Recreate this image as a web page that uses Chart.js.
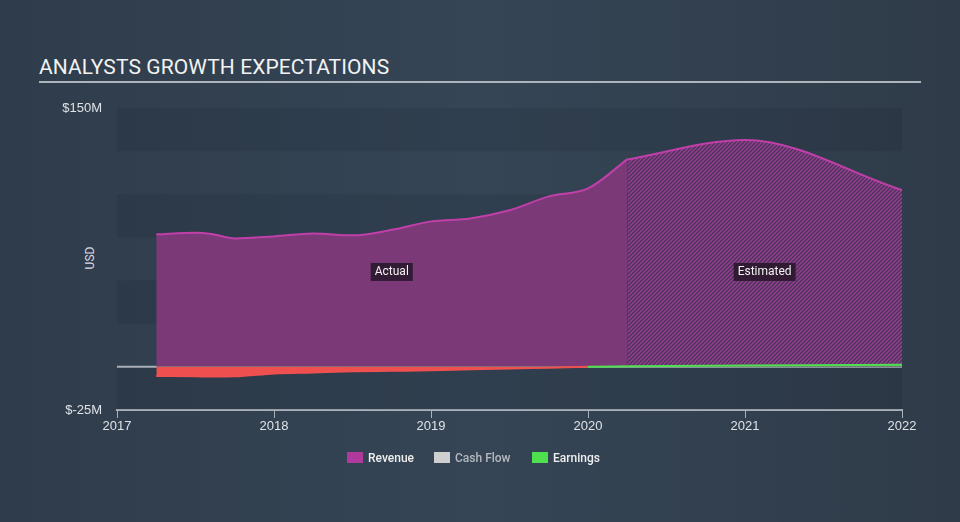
<!DOCTYPE html>
<html>
<head>
<meta charset="utf-8">
<script src="https://cdn.jsdelivr.net/npm/chart.js@4.4.1/dist/chart.umd.min.js"></script>
<style>
  html, body { margin: 0; padding: 0; }
  body {
    width: 960px; height: 522px; overflow: hidden; position: relative;
    background: linear-gradient(90deg, #2f3c4b 0%, #354555 50%, #2f3b49 100%);
    font-family: Roboto, "Open Sans", sans-serif;
  }
  #title {
    position: absolute; left: 39px; top: 55px;
    font-size: 21px; color: #f2f2f2; letter-spacing: 0.1px;
  }
  #rule {
    position: absolute; left: 39px; top: 81px; width: 882px; height: 2px; background: #aeb4bb;
  }
  #usd {
    position: absolute; left: 79px; top: 251px; font-size: 12px; color: #d8dbe0;
    transform: rotate(-90deg); transform-origin: center;
  }
  #wrap { position: absolute; left: 0; top: 0; width: 960px; height: 522px; }
  #legend { position: absolute; top: 451px; left: 0; width: 960px; font-size: 12px; font-weight: 500; }
  .item { position: absolute; top: 0; height: 12px; line-height: 12px; }
  .item span.box { position: absolute; left: 0; top: 1px; width: 16px; height: 11px; }
  .item span.txt { position: absolute; left: 21px; top: 1px; white-space: nowrap; }
</style>
</head>
<body>
<div id="title">ANALYSTS GROWTH EXPECTATIONS</div>
<div id="rule"></div>
<div id="usd">USD</div>
<div id="wrap"><canvas id="chart" width="960" height="522"></canvas></div>
<div id="legend">
  <div class="item" style="left:347px"><span class="box" style="background:#b0399c"></span><span class="txt" style="color:#eeeeee">Revenue</span></div>
  <div class="item" style="left:434px"><span class="box" style="background:#cfcfcf"></span><span class="txt" style="color:#b5b9be">Cash Flow</span></div>
  <div class="item" style="left:532px"><span class="box" style="background:#4fe04f"></span><span class="txt" style="color:#eeeeee">Earnings</span></div>
</div>
<script>
// values in $M, dates as fractional years
const actualYears   = [2017.25, 2017.5, 2017.6, 2017.75, 2018.0, 2018.25, 2018.5, 2018.75, 2019.0, 2019.25, 2019.5, 2019.75, 2020.0, 2020.25];
const revenueActual = [76.8, 77.7, 77.0, 74.4, 75.6, 77.3, 76.2, 79.4, 84.3, 86.0, 90.7, 98.8, 103.4, 120.2];
const earningsActual = [-5.3, -5.5, -5.6, -5.5, -3.8, -3.2, -2.6, -2.3, -2.0, -1.4, -0.9, -0.5, 0.0, 0.3];

const estimateYears    = [2020.25, 2021.0, 2022.0];
const revenueEstimate  = [120.2, 131.5, 102.5];
const earningsEstimate = [0.3, 0.8, 1.2];

const yTickLabels = { 150: '$150M', '-25': '$-25M' };

function pts(xs, ys) {
  return xs.map((x, i) => ({ x: x, y: ys[i] }));
}

// diagonal hatch for the forecast area
function hatch() {
  const c = document.createElement('canvas');
  c.width = 4; c.height = 4;
  const g = c.getContext('2d');
  g.fillStyle = '#4c3458';
  g.fillRect(0, 0, 4, 4);
  g.strokeStyle = '#9a3f96';
  g.lineWidth = 1.3;
  g.beginPath();
  g.moveTo(0, 4); g.lineTo(4, 0);
  g.moveTo(-1, 1); g.lineTo(1, -1);
  g.moveTo(3, 5); g.lineTo(5, 3);
  g.stroke();
  return g.createPattern(c, 'repeat');
}

// alternating bands + zero line behind the data
const bandsPlugin = {
  id: 'bands',
  beforeDatasetsDraw(chart) {
    const { ctx, chartArea, scales: { y } } = chart;
    ctx.save();
    ctx.fillStyle = 'rgba(20, 28, 38, 0.12)';
    for (let v = 150; v > -25; v -= 50) {
      const top = y.getPixelForValue(v);
      const bot = y.getPixelForValue(v - 25);
      ctx.fillRect(chartArea.left, top, chartArea.right - chartArea.left, bot - top);
    }
    const b = y.getPixelForValue(0);
    ctx.strokeStyle = '#a9b0b8';
    ctx.lineWidth = 2;
    ctx.beginPath();
    ctx.moveTo(chartArea.left, b);
    ctx.lineTo(chartArea.right, b);
    ctx.stroke();
    ctx.restore();
  },
  afterDatasetsDraw(chart) {
    const { ctx, scales: { x, y } } = chart;
    const labelY = y.getPixelForValue(55);
    const tags = [
      ['Actual', (x.getPixelForValue(actualYears[0]) + x.getPixelForValue(actualYears[actualYears.length - 1])) / 2],
      ['Estimated', (x.getPixelForValue(estimateYears[0]) + x.getPixelForValue(estimateYears[estimateYears.length - 1])) / 2]
    ];
    ctx.save();
    ctx.font = '12px Roboto, sans-serif';
    ctx.textAlign = 'center';
    ctx.textBaseline = 'middle';
    tags.forEach(([t, cx]) => {
      const w = ctx.measureText(t).width + 8;
      ctx.fillStyle = 'rgba(38, 22, 40, 0.85)';
      ctx.fillRect(cx - w / 2, labelY - 9, w, 18);
      ctx.fillStyle = '#f2f2f2';
      ctx.fillText(t, cx, labelY + 0.5);
    });
    ctx.restore();
  }
};

const earnColor = ctx => (ctx.p1.parsed.y >= 0 && ctx.p0.parsed.y >= 0) ? '#4fe04f' : '#f05050';

new Chart(document.getElementById('chart'), {
  type: 'line',
  data: {
    datasets: [
      {
        label: 'Earnings',
        data: pts(actualYears, earningsActual),
        borderColor: '#f05050',
        segment: { borderColor: earnColor },
        borderWidth: 2,
        fill: { target: 'origin', above: '#4fe04f', below: '#ef4f4f' },
        pointRadius: 0,
        cubicInterpolationMode: 'monotone',
        order: 1
      },
      {
        label: 'Earnings (est.)',
        data: pts(estimateYears, earningsEstimate),
        borderColor: '#4fe04f',
        borderWidth: 2,
        fill: { target: 'origin', above: 'rgba(79,224,79,0.5)' },
        pointRadius: 0,
        cubicInterpolationMode: 'monotone',
        order: 1
      },
      {
        label: 'Revenue',
        data: pts(actualYears, revenueActual),
        borderColor: '#c03fa8',
        backgroundColor: '#7b3a77',
        borderWidth: 2,
        fill: 'origin',
        pointRadius: 0,
        cubicInterpolationMode: 'monotone',
        order: 2
      },
      {
        label: 'Revenue (est.)',
        data: pts(estimateYears, revenueEstimate),
        borderColor: '#c03fa8',
        backgroundColor: hatch(),
        borderWidth: 2,
        fill: 'origin',
        pointRadius: 0,
        cubicInterpolationMode: 'monotone',
        order: 2
      }
    ]
  },
  options: {
    responsive: false,
    animation: false,
    layout: { padding: { top: 108, right: 58, left: 0, bottom: 0 } },
    plugins: { legend: { display: false }, tooltip: { enabled: false } },
    scales: {
      x: {
        type: 'linear',
        min: 2017, max: 2022,
        afterFit: s => { s.height = 112; },
        ticks: { stepSize: 1, color: '#dfe2e6', font: { size: 13 }, padding: 1, callback: v => String(v) },
        grid: { drawOnChartArea: false, drawTicks: true, tickLength: 8, color: '#a9b0b8', lineWidth: 1 },
        border: { color: '#a9b0b8', width: 2 }
      },
      y: {
        min: -25, max: 150,
        afterFit: s => { s.width = 117; },
        afterBuildTicks: s => { s.ticks = [{ value: -25 }, { value: 150 }]; },
        ticks: { color: '#dfe2e6', font: { size: 13 }, padding: 15, callback: v => yTickLabels[v] || '' },
        grid: { display: false, drawTicks: false },
        border: { display: false }
      }
    }
  },
  plugins: [bandsPlugin]
});
</script>
</body>
</html>
